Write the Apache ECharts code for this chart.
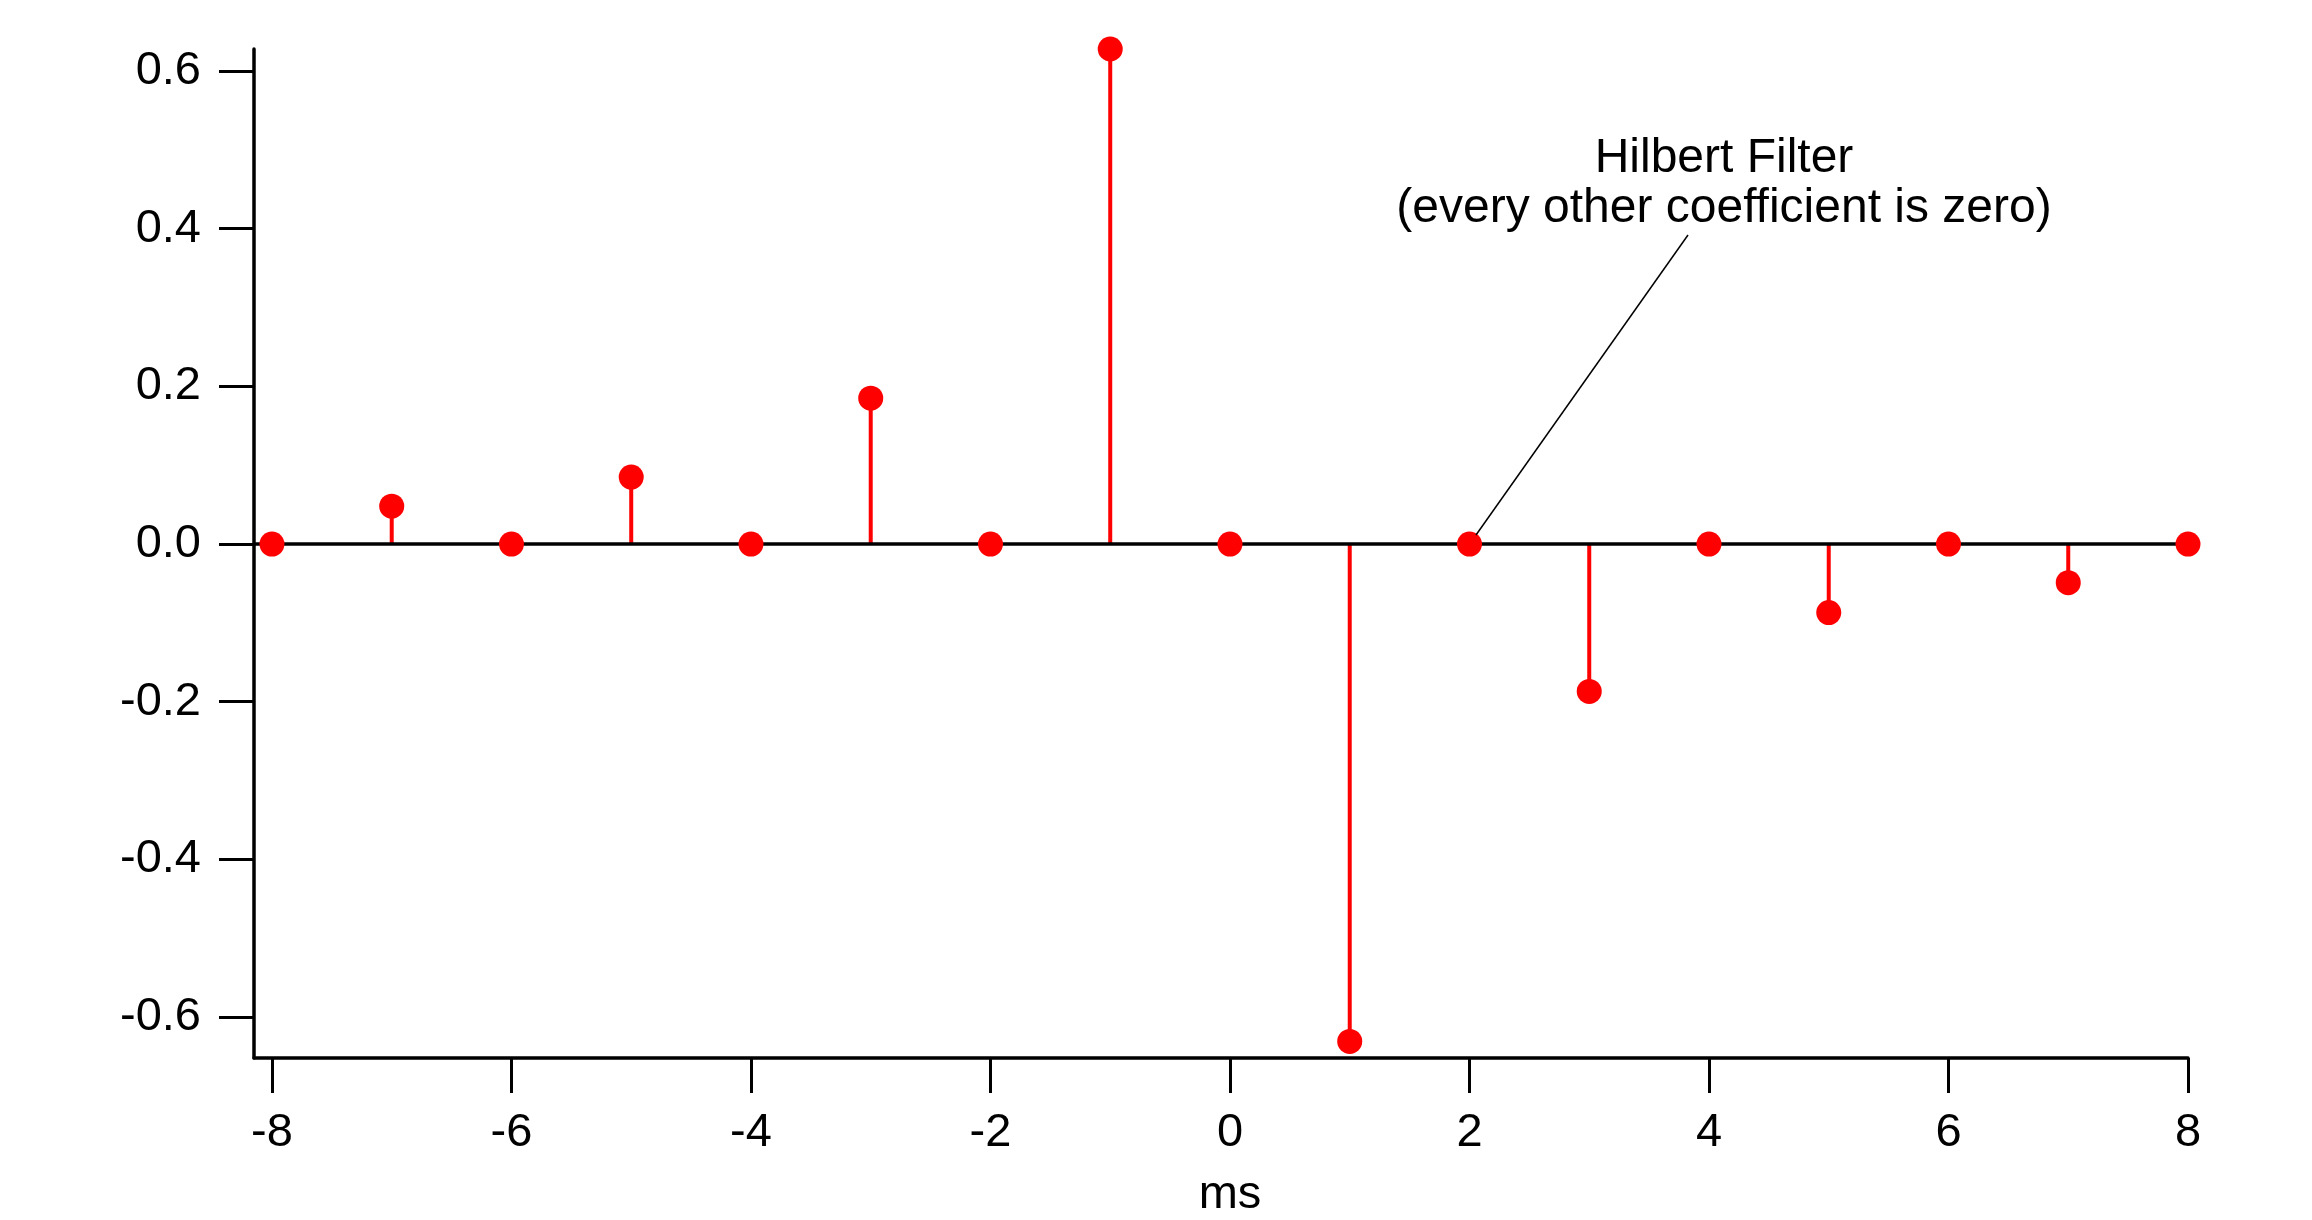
<!DOCTYPE html>
<html>
<head>
<meta charset="utf-8">
<title>Hilbert Filter</title>
<script src="https://cdn.jsdelivr.net/npm/echarts@6/dist/echarts.min.js"></script>
<style>
  html, body { margin: 0; padding: 0; background: #fff; }
  #chart { width: 2312px; height: 1220px; }
</style>
</head>
<body>
<div id="chart"></div>
<script>
// 采样时刻 (ms) 与滤波器系数
const msValues = [-8, -7, -6, -5, -4, -3, -2, -1, 0, 1, 2, 3, 4, 5, 6, 7, 8]
const coefficients = [0, 0.048, 0, 0.085, 0, 0.185, 0, 0.628, 0, -0.631, 0, -0.187, 0, -0.087, 0, -0.049, 0]

// 刻度
const xTickValues = [-8, -6, -4, -2, 0, 2, 4, 6, 8]
const yTickValues = [-0.6, -0.4, -0.2, 0, 0.2, 0.4, 0.6]
const xRange = [-8.15, 8]
const yRange = [-0.652, 0.628]

const annotationLines = ['Hilbert Filter', '(every other coefficient is zero)']

const FONT = "'Liberation Sans', Arial, Helvetica, sans-serif"
const RED = '#ff0000'

const points = msValues.map((x, i) => [x, coefficients[i]])

const chart = echarts.init(document.getElementById('chart'))

chart.setOption({
  animation: false,
  backgroundColor: '#fff',
  grid: { left: 254, right: 124, top: 49, bottom: 162, outerBoundsMode: 'none' },
  xAxis: {
    type: 'value',
    min: xRange[0],
    max: xRange[1],
    name: 'ms',
    nameLocation: 'middle',
    nameGap: 114,
    nameTextStyle: { color: '#000', fontSize: 47, fontFamily: FONT, padding: [0, 0, 0, 18] },
    axisLine: { onZero: false, lineStyle: { color: '#000', width: 3.5 } },
    axisTick: { customValues: xTickValues, length: 35, lineStyle: { color: '#000', width: 3 } },
    axisLabel: {
      customValues: xTickValues,
      margin: 52,
      color: '#000',
      fontSize: 47,
      fontFamily: FONT
    },
    splitLine: { show: false }
  },
  yAxis: {
    type: 'value',
    min: yRange[0],
    max: yRange[1],
    axisLine: { show: true, onZero: false, lineStyle: { color: '#000', width: 3.5 } },
    axisTick: { show: true, customValues: yTickValues, length: 35, lineStyle: { color: '#000', width: 3 } },
    axisLabel: {
      customValues: yTickValues,
      margin: 53,
      color: '#000',
      fontSize: 47,
      fontFamily: FONT,
      formatter: (v) => v.toFixed(1)
    },
    splitLine: { show: false }
  },
  series: [
    {
      // 竖线 (stem)
      type: 'bar',
      data: points,
      barWidth: 4,
      z: 2,
      itemStyle: { color: RED },
      markLine: {
        silent: true,
        symbol: 'none',
        z: 3,
        label: { show: false },
        lineStyle: { color: '#000', width: 3.5, type: 'solid' },
        data: [{ yAxis: 0 }]
      }
    },
    {
      // 圆点
      type: 'scatter',
      data: points,
      symbol: 'circle',
      symbolSize: 25,
      clip: false,
      z: 4,
      itemStyle: { color: RED, opacity: 1 }
    }
  ],
  graphic: [
    {
      type: 'text',
      z: 10,
      style: {
        x: 1724, y: 159,
        text: annotationLines[0],
        align: 'center', verticalAlign: 'middle',
        fill: '#000', fontSize: 48, fontFamily: FONT
      }
    },
    {
      type: 'text',
      z: 10,
      style: {
        x: 1724, y: 209,
        text: annotationLines[1],
        align: 'center', verticalAlign: 'middle',
        fill: '#000', fontSize: 48, fontFamily: FONT
      }
    },
    {
      type: 'line',
      z: 10,
      shape: { x1: 1688, y1: 235, x2: 1476, y2: 535 },
      style: { stroke: '#000', lineWidth: 1.5 }
    }
  ]
})
</script>
</body>
</html>
